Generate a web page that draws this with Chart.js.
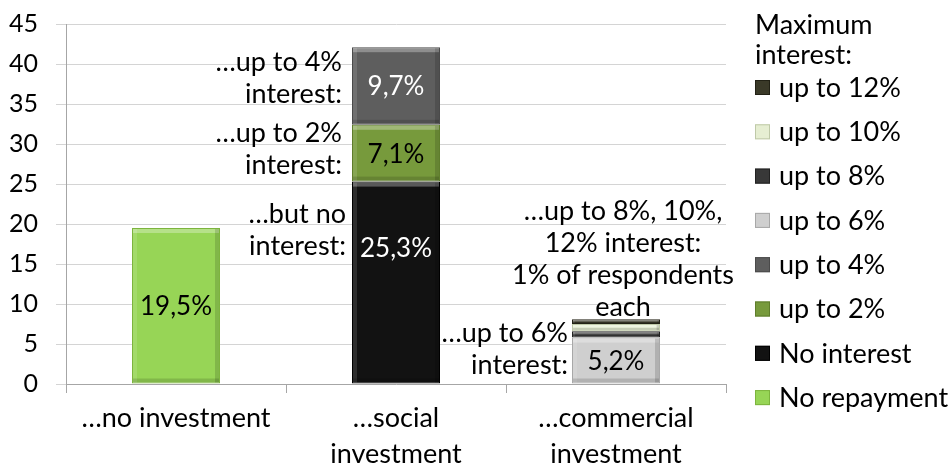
<!DOCTYPE html>
<html><head><meta charset="utf-8">
<script src="https://cdn.jsdelivr.net/npm/chart.js@4/dist/chart.umd.min.js"></script>
<style>html,body{margin:0;padding:0;background:#fff}#wrap{width:948px;height:465px}</style>
</head><body><div id="wrap"><canvas id="c" width="948" height="465"></canvas></div>
<script>
// ---- data ----
const categories = [['…no investment'], ['…social', 'investment'], ['…commercial', 'investment']];
const seriesNames = ['No repayment', 'No interest', 'up to 2%', 'up to 4%', 'up to 6%', 'up to 8%', 'up to 10%', 'up to 12%'];
const noRepayment = [19.5, null, null];
const noInterest  = [null, 25.3, null];
const upTo2       = [null, 7.1, null];
const upTo4       = [null, 9.7, null];
const upTo6       = [null, null, 5.8];
const upTo8       = [null, null, 0.8];
const upTo10      = [null, null, 0.9];
const upTo12      = [null, null, 0.6];
const yTickValues = [0, 5, 10, 15, 20, 25, 30, 35, 40, 45];
const legendTitle = ['Maximum', 'interest:'];
const shownLabels = [
  { series: 0, cat: 0, text: '19,5%' },
  { series: 1, cat: 1, text: '25,3%' },
  { series: 2, cat: 1, text: '7,1%' },
  { series: 3, cat: 1, text: '9,7%' },
  { series: 4, cat: 2, text: '5,2%' }
];
const notes = [
  { cat: 1, lines: ['…up to 4%', 'interest:'] },
  { cat: 1, lines: ['…up to 2%', 'interest:'] },
  { cat: 1, lines: ['…but no', 'interest:'] },
  { cat: 2, lines: ['…up to 8%, 10%,', '12% interest:', '1% of respondents', 'each'] },
  { cat: 2, lines: ['…up to 6%', 'interest:'] }
];

// ---- styles ----
const FONT = 'Lato, "Open Sans", sans-serif';
const seriesColors  = ['#97D556', '#121212', '#779A3C', '#5E5E5E', '#CFCFCF', '#383838', '#E6EED2', '#3A3928'];
const seriesBorders = ['#7DB43E', '#000000', '#5F7D2C', '#4A4A4A', '#A8A8A8', '#222222', '#BFC9A8', '#222115'];
const labelColors = ['#000', '#fff', '#000', '#fff', '#000'];
const labelYValue = [null, 17.0, null, null, null];
const notePlace = [
  { align: 'right', yValue: 38.2, dx: -10 },
  { align: 'right', yValue: 29.3, dx: -10 },
  { align: 'right', yValue: 19.2, dx: -6 },
  { align: 'center', yValue: 15.6, dx: 7 },
  { align: 'right', yValue: 4.4, dx: -4 }
];
const seriesData = [noRepayment, noInterest, upTo2, upTo4, upTo6, upTo8, upTo10, upTo12];

const datasets = seriesNames.map((name, i) => ({
  label: name,
  data: seriesData[i],
  backgroundColor: seriesColors[i],
  borderColor: seriesBorders[i],
  borderWidth: 1,
  borderSkipped: false,
  categoryPercentage: 1.0,
  barPercentage: 0.4
}));

const bevelPlugin = {
  id: 'bevel',
  afterDatasetsDraw(chart) {
    const ctx = chart.ctx;
    chart.data.datasets.forEach((ds, i) => {
      chart.getDatasetMeta(i).data.forEach((bar, j) => {
        if (ds.data[j] == null) return;
        const p = bar.getProps(['x', 'y', 'base', 'width'], true);
        const l = p.x - p.width / 2, r = p.x + p.width / 2, t = Math.min(p.y, p.base), b = Math.max(p.y, p.base);
        const h = b - t; const e = Math.min(4, h / 3);
        ctx.save();
        ctx.fillStyle = 'rgba(255,255,255,0.3)';
        ctx.fillRect(l + 1, t + 1, p.width - 2, e);
        ctx.fillStyle = 'rgba(255,255,255,0.12)';
        ctx.fillRect(l + 1, t + 1, e, h - 2);
        ctx.fillStyle = 'rgba(0,0,0,0.14)';
        ctx.fillRect(r - 1 - e, t + 1, e, h - 2);
        ctx.fillRect(l + 1, b - 1 - e, p.width - 2, e);
        ctx.restore();
      });
    });
  }
};

const textPlugin = {
  id: 'texts',
  afterDraw(chart) {
    const ctx = chart.ctx;
    const ys = chart.scales.y;
    ctx.save();
    ctx.textBaseline = 'middle';
    // value labels
    ctx.font = '26px ' + FONT;
    ctx.textAlign = 'center';
    shownLabels.forEach((lb, k) => {
      const bar = chart.getDatasetMeta(lb.series).data[lb.cat];
      const p = bar.getProps(['x', 'y', 'base'], true);
      const y = labelYValue[k] != null ? ys.getPixelForValue(labelYValue[k]) : (p.y + p.base) / 2;
      ctx.fillStyle = labelColors[k];
      ctx.fillText(lb.text, p.x, y + 1);
    });
    // notes
    ctx.font = '27px ' + FONT;
    ctx.fillStyle = '#000';
    notes.forEach((n, k) => {
      const pl = notePlace[k];
      const bar = chart.getDatasetMeta(0).data[n.cat];
      const p = bar.getProps(['x', 'width'], true);
      const x = pl.align === 'right' ? p.x - p.width / 2 + pl.dx : p.x + pl.dx;
      ctx.textAlign = pl.align;
      const lh = 32;
      const cy = ys.getPixelForValue(pl.yValue);
      n.lines.forEach((line, li) => {
        ctx.fillText(line, x, cy + (li - (n.lines.length - 1) / 2) * lh);
      });
    });
    // legend
    ctx.textAlign = 'left';
    ctx.font = '27px ' + FONT;
    const lx = 755;
    legendTitle.forEach((t, i) => ctx.fillText(t, lx, 25 + i * 30));
    const order = chart.data.datasets.map((d, i) => i).reverse();
    order.forEach((di, r) => {
      const ds = chart.data.datasets[di];
      const cy = 87 + r * 44.3;
      ctx.fillStyle = ds.backgroundColor;
      ctx.fillRect(lx, cy - 7, 15, 15);
      ctx.strokeStyle = ds.borderColor;
      ctx.lineWidth = 1;
      ctx.strokeRect(lx + 0.5, cy - 6.5, 14, 14);
      ctx.fillStyle = '#000';
      ctx.fillText(ds.label, 779, cy + 1);
    });
    ctx.restore();
  }
};

new Chart(document.getElementById('c'), {
  type: 'bar',
  data: { labels: categories, datasets },
  plugins: [bevelPlugin, textPlugin],
  options: {
    responsive: false,
    devicePixelRatio: 1,
    animation: false,
    layout: { padding: { left: 0, right: 222, top: 24, bottom: 0 } },
    plugins: { legend: { display: false }, tooltip: { enabled: false } },
    scales: {
      x: {
        stacked: true,
        afterFit(scale) { scale.height = 81; scale.paddingLeft = 0; scale.paddingRight = 0; },
        grid: { display: true, drawOnChartArea: false, drawTicks: true, tickLength: 9, color: '#A6A6A6' },
        border: { color: '#A6A6A6' },
        ticks: { color: '#000', font: { family: FONT, size: 27, lineHeight: '36px' }, padding: 7, maxRotation: 0, autoSkip: false }
      },
      y: {
        stacked: true,
        min: 0, max: 45,
        afterBuildTicks(scale) { scale.ticks = yTickValues.map(v => ({ value: v })); },
        afterFit(scale) { scale.width = 66; scale.paddingTop = 0; scale.paddingBottom = 0; },
        grid: { color: '#D4D4D4', tickLength: 10 },
        border: { color: '#A6A6A6' },
        ticks: { color: '#000', font: { family: FONT, size: 25 }, padding: 18 }
      }
    }
  }
});
</script>
</body></html>
